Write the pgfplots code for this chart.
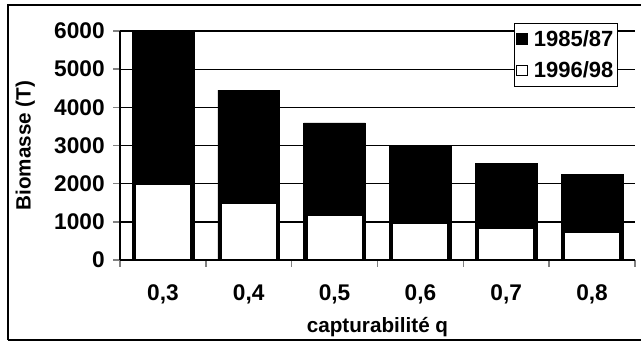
\documentclass[border=0pt]{standalone}
\usepackage{pgfplots}
\pgfplotsset{compat=1.18}
\usepackage{fontspec}
\setmainfont{Liberation Sans}
\begin{document}
\begin{tikzpicture}[x=1pt,y=1pt]
\begin{axis}[
  at={(0,0)}, anchor=south west,
  scale only axis, width=386.25pt, height=171.75pt,
  xmin=-0.5, xmax=5.5, ymin=0, ymax=6000,
  axis lines*=left,
  axis line style={line width=1.2pt},
  xtick={0,...,5},
  xticklabels={{0,3},{0,4},{0,5},{0,6},{0,7},{0,8}},
  minor xtick={-0.5,0.5,...,5.5},
  major x tick style={draw=none},
  minor x tick style={line width=1.2pt},
  minor tick length=5pt,
  ytick={0,1000,...,6000},
  major tick length=5pt,
  tick align=outside,
  ytick style={line width=1.2pt},
  scaled y ticks=false,
  /pgf/number format/assume math mode=true,
  yticklabel={\pgfmathprintnumber[1000 sep={}]{\tick}},
  ticklabel style={font=\fontsize{17}{19}\selectfont\bfseries},
  xticklabel style={yshift=-10pt},
  yticklabel style={xshift=-3pt},
  ymajorgrids, grid style={black, line width=1pt},
  xlabel={capturabilité q},
  ylabel={Biomasse (T)},
  label style={font=\fontsize{15.5}{17}\selectfont\bfseries},
  xlabel style={at={(axis description cs:0.5,0)}, anchor=center, yshift=-50pt},
  ylabel style={at={(axis description cs:0,0.5)}, anchor=center, rotate=0, yshift=71pt},
  legend style={at={(0.967,1.035)}, anchor=north east, draw=black, line width=0.8pt,
    font=\fontsize{16.5}{19}\selectfont\bfseries, inner xsep=1pt, inner ysep=3pt, row sep=6pt,
    cells={anchor=west}, fill=white},
  legend image code/.code={\draw[#1, line width=0.8pt] (0.5pt,-4pt) rectangle (8.5pt,4pt); \path (11pt,0pt);},
  clip=false,
]
\addplot[ybar, bar width=0.72, fill=black, draw=black, bar shift=0pt]
  coordinates {(0,6000) (1,4450) (2,3590) (3,2980) (4,2540) (5,2250)};
\addlegendentry{1985/87}
\addplot[ybar, bar width=0.64, fill=white, draw=black, line width=0.8pt, bar shift=0pt]
  coordinates {(0,1990) (1,1490) (2,1160) (3,970) (4,820) (5,710)};
\addlegendentry{1996/98}
\end{axis}
\draw[line width=1pt] (-84,-60) -- (-84,191.25) -- (390.75,191.25);
\draw[line width=1pt] (-84,-60) -- (390.75,-60);
\pgfresetboundingbox
\useasboundingbox (-90,-61.5) rectangle (390.75,195);
\end{tikzpicture}
\end{document}
